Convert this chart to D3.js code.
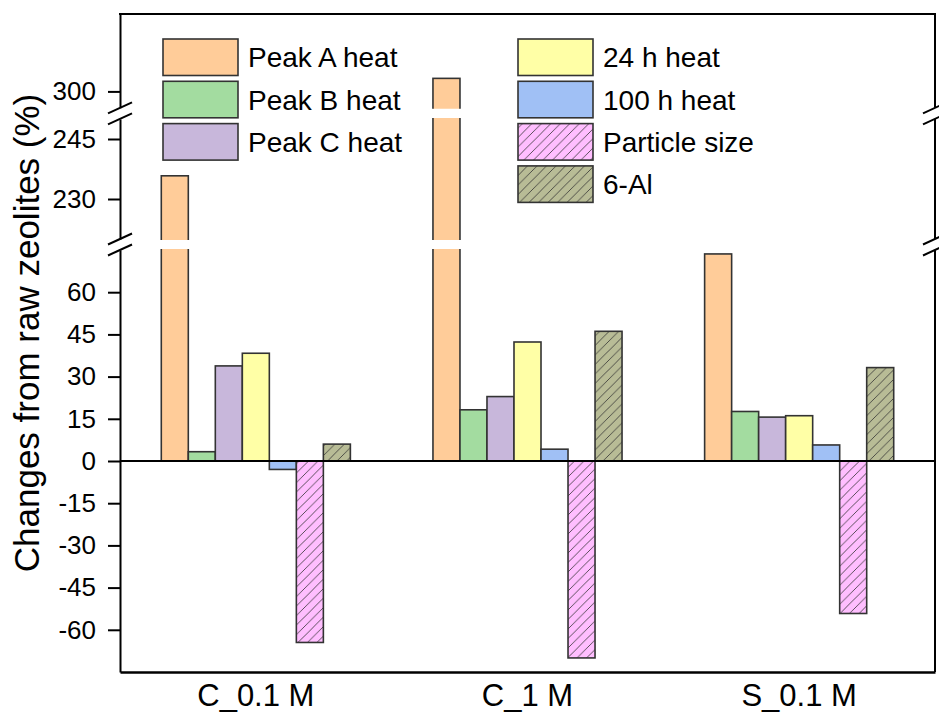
<!DOCTYPE html>
<html>
<head>
<meta charset="utf-8">
<script src="https://cdn.jsdelivr.net/npm/d3@7"></script>
<style>
  body { margin: 0; background: #fff; }
  text { font-family: "Liberation Sans", Arial, sans-serif; fill: #000; }
</style>
</head>
<body>
<div id="chart"></div>
<script>
// data
var categories = ["C_0.1 M", "C_1 M", "S_0.1 M"];
var seriesNames = ["Peak A heat", "Peak B heat", "Peak C heat", "24 h heat", "100 h heat", "Particle size", "6-Al"];
var peakA = [235.8, 303.2, 73.6];
var peakB = [3.3, 18.2, 17.6];
var peakC = [33.8, 22.9, 15.6];
var heat24 = [38.3, 42.3, 16.1];
var heat100 = [-3.0, 4.2, 5.7];
var particle = [-64.5, -70.0, -54.2];
var al6 = [6.0, 46.1, 33.2];
var seriesValues = [peakA, peakB, peakC, heat24, heat100, particle, al6];
var colors = ["#FFCC99", "#A3DCA0", "#C8B7DB", "#FFFFA6", "#A0C0F5", "#FFBEFF", "#B8BC96"];
var hatched = [false, false, false, false, false, true, true];

// broken y axis: three segments
var segDomains = [[-75, 75], [220, 250], [296, 319]];
var segTicks = [[-60, -45, -30, -15, 0, 15, 30, 45, 60], [230, 245], [300]];

var width = 939, height = 713;
var plotLeft = 120, plotRight = 935, plotTop = 14, plotBottom = 672;
var segRanges = [[672, 250], [239, 119], [107.7, 14]];

var svg = d3.select("#chart").append("svg")
    .attr("width", width)
    .attr("height", height);

var defs = svg.append("defs");
var hs = 9.5; // hatch spacing
hatched.forEach(function(h, i) {
  if (!h) return;
  var p = defs.append("pattern")
      .attr("id", "hatch" + i)
      .attr("patternUnits", "userSpaceOnUse")
      .attr("width", hs).attr("height", hs);
  p.append("rect").attr("width", hs).attr("height", hs).attr("fill", colors[i]);
  p.append("path")
      .attr("d", "M0," + hs + " L" + hs + ",0 M-2,2 L2,-2 M" + (hs - 2) + "," + (hs + 2) + " L" + (hs + 2) + "," + (hs - 2))
      .attr("stroke", "#333").attr("stroke-width", 0.8);
});
function fillFor(i) { return hatched[i] ? "url(#hatch" + i + ")" : colors[i]; }

var x0 = d3.scaleBand().domain(categories).range([plotLeft, plotRight])
    .paddingInner(0.304).paddingOuter(0.152);
var x1 = d3.scaleBand().domain(d3.range(seriesNames.length)).range([0, x0.bandwidth()]);

var yScales = segDomains.map(function(d, k) {
  return d3.scaleLinear().domain(d).range(segRanges[k]);
});

// bars, drawn once per segment and clipped to it
yScales.forEach(function(y, k) {
  defs.append("clipPath").attr("id", "seg" + k)
    .append("rect")
      .attr("x", plotLeft).attr("width", plotRight - plotLeft)
      .attr("y", segRanges[k][1] - 1)
      .attr("height", segRanges[k][0] - segRanges[k][1] + 2);

  var g = svg.append("g").attr("clip-path", "url(#seg" + k + ")");
  var lo = segDomains[k][0], hi = segDomains[k][1];
  seriesValues.forEach(function(vals, i) {
    vals.forEach(function(v, c) {
      var vMin = Math.min(0, v), vMax = Math.max(0, v);
      if (vMax < lo || vMin > hi) return;
      var a = y(Math.min(vMax, hi + 5)), b = y(Math.max(vMin, lo - 5));
      g.append("rect")
        .attr("x", x0(categories[c]) + x1(i))
        .attr("width", x1.bandwidth())
        .attr("y", a)
        .attr("height", b - a)
        .attr("fill", fillFor(i))
        .attr("stroke", "#333")
        .attr("stroke-width", 1.6);
    });
  });
});

// zero line
svg.append("line")
  .attr("x1", plotLeft).attr("x2", plotRight)
  .attr("y1", yScales[0](0)).attr("y2", yScales[0](0))
  .attr("stroke", "#000").attr("stroke-width", 2);

// left axis segments with ticks, plain right axis segments
yScales.forEach(function(y, k) {
  var ax = svg.append("g")
    .attr("transform", "translate(" + plotLeft + ",0)")
    .call(d3.axisLeft(y).tickValues(segTicks[k])
      .tickFormat(function(d) { return String(d); })
      .tickSizeInner(12).tickSizeOuter(0).tickPadding(12));
  ax.select(".domain").attr("stroke-width", 2);
  ax.selectAll(".tick line").attr("stroke-width", 2);
  ax.selectAll("text").attr("font-size", 26).attr("font-family", "Liberation Sans, Arial, sans-serif");
  svg.append("line")
    .attr("x1", plotRight).attr("x2", plotRight)
    .attr("y1", segRanges[k][0]).attr("y2", segRanges[k][1])
    .attr("stroke", "#000").attr("stroke-width", 2);
});

// top and bottom frame
svg.append("line").attr("x1", plotLeft - 1).attr("x2", plotRight + 1)
  .attr("y1", plotTop).attr("y2", plotTop)
  .attr("stroke", "#000").attr("stroke-width", 2);
var xa = svg.append("g")
  .attr("transform", "translate(0," + plotBottom + ")")
  .call(d3.axisBottom(x0).tickSize(0).tickPadding(12));
xa.select(".domain").attr("stroke-width", 2.5);
xa.selectAll("text").attr("font-size", 31).attr("font-family", "Liberation Sans, Arial, sans-serif");

// break marks
var gaps = [[segRanges[0][1], segRanges[1][0]], [segRanges[1][1], segRanges[2][0]]];
gaps.forEach(function(gp) {
  var yc = (gp[0] + gp[1]) / 2;
  [plotLeft, plotRight].forEach(function(xc) {
    [-5.5, 5.5].forEach(function(o) {
      svg.append("line")
        .attr("x1", xc - 12).attr("y1", yc + o + 5.5)
        .attr("x2", xc + 12).attr("y2", yc + o - 5.5)
        .attr("stroke", "#000").attr("stroke-width", 2);
    });
  });
});

// y title
svg.append("text")
  .attr("transform", "translate(39,333) rotate(-90)")
  .attr("text-anchor", "middle")
  .attr("font-size", 35)
  .text("Changes from raw zeolites (%)");

// legend
var legCols = [{x: 163, items: [0, 1, 2]}, {x: 518, items: [3, 4, 5, 6]}];
legCols.forEach(function(col) {
  col.items.forEach(function(i, r) {
    var yy = 39 + r * 42.3;
    svg.append("rect")
      .attr("x", col.x).attr("y", yy)
      .attr("width", 75).attr("height", 36.5)
      .attr("fill", fillFor(i))
      .attr("stroke", "#333").attr("stroke-width", 1.6);
    svg.append("text")
      .attr("x", col.x + 85).attr("y", yy + 18.5)
      .attr("dy", "0.35em")
      .attr("font-size", 28)
      .text(seriesNames[i]);
  });
});
</script>
</body>
</html>
